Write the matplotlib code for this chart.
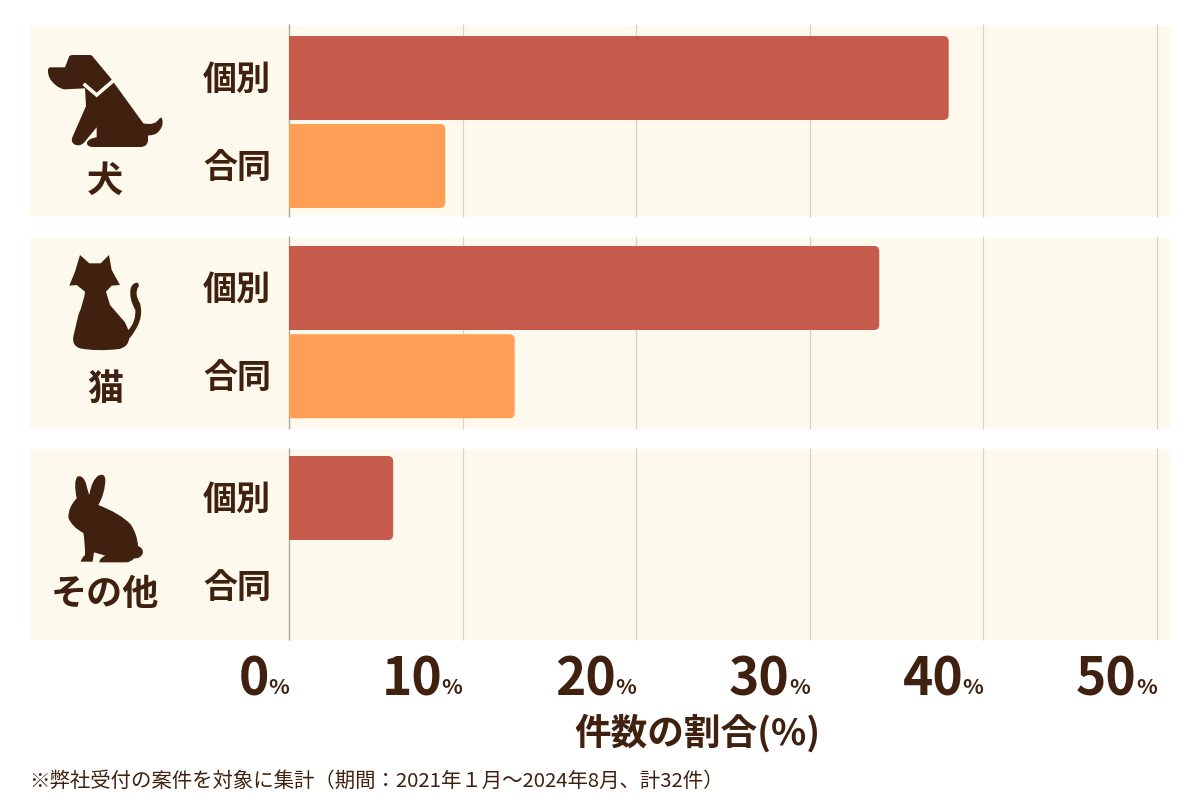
import matplotlib
matplotlib.use('Agg')
import matplotlib.pyplot as plt
from matplotlib.patches import FancyBboxPatch, PathPatch
from matplotlib.path import Path
from matplotlib.transforms import ScaledTranslation

plt.rcParams['font.family'] = ['Noto Sans CJK JP', 'DejaVu Sans']

animals = ['犬', '猫', 'その他']
kinds = ['個別', '合同']
kojin = [38, 34, 6]  # percent of cases
goudou = [9, 13, 0]
xticks = [0, 10, 20, 30, 40, 50]
xlabel = '件数の割合(%)'
note = '※弊社受付の案件を対象に集計（期間：2021年１月～2024年8月、計32件）'

BROWN = '#40200f'
BAND = '#fdf9ec'
RED = '#c65b4b'
ORANGE = '#ff9f55'

band_tops = [26, 238, 449.5]
band_h = 190.5
px_per_pct = 17.36
left, right = 289, 1171

# icon outlines, drawn on a 3x grid
dog = ('M 118 108 Q 122 105 130 105 L 180 105 Q 186 105 190 112 L 240 172 L 340 310 '
       'Q 375 318 388 296 Q 395 288 397 300 Q 402 322 380 340 Q 365 348 354 346 '
       'L 354 362 Q 352 380 332 381 L 188 381 Q 170 380 171 368 Q 175 355 200 352 L 200 322 L 162 368 '
       'Q 150 380 135 374 Q 120 366 128 350 L 168 258 L 165 205 L 105 208 Q 92 208 78 196 '
       'Q 52 176 54 150 Q 54 142 62 142 L 105 142 Z')
cat = ('M 150 60 L 178 85 L 212 85 L 237 60 L 245 105 L 270 150 L 245 152 L 228 170 L 240 210 L 285 262 '
       'L 295 285 Q 318 262 316 225 Q 296 190 302 160 Q 308 143 322 143 Q 330 148 325 156 '
       'Q 312 175 330 205 Q 345 255 297 312 Q 295 335 268 342 Q 200 350 150 340 Q 125 332 130 305 '
       'L 145 240 Q 162 200 165 170 L 140 150 L 118 152 L 135 110 Z')
rabbit = ('M 140 160 Q 130 110 142 95 Q 158 88 168 115 Q 172 135 178 150 Q 185 105 205 92 Q 225 82 226 105 '
          'Q 225 145 205 180 Q 270 205 302 238 Q 322 268 324 303 Q 342 310 338 326 Q 330 342 312 340 '
          'Q 305 350 290 352 L 208 352 Q 208 340 226 332 L 192 322 L 188 350 L 152 350 Q 155 338 165 330 '
          'Q 166 300 160 264 Q 125 245 115 218 Q 115 185 140 160 Z')
icons = [(dog, 30, 20), (cat, 30, 235), (rabbit, 30, 445)]
icon_labels_y = [181, 389, 595]


def icon_path(d, ox, oy):
    # tiny M/L/Q/Z outline reader, turns the 3x grid into figure pixels
    tok = d.split()
    verts, codes = [], []
    i = 0
    while i < len(tok):
        c = tok[i]
        if c == 'Z':
            verts.append(verts[0])
            codes.append(Path.CLOSEPOLY)
            i += 1
            continue
        n = 4 if c == 'Q' else 2
        vals = [float(v) for v in tok[i + 1:i + 1 + n]]
        for j in range(0, n, 2):
            verts.append((ox + vals[j] / 3, oy + vals[j + 1] / 3))
            codes.append({'M': Path.MOVETO, 'L': Path.LINETO, 'Q': Path.CURVE3}[c])
        i += n + 1
    return Path(verts, codes)


fig = plt.figure(figsize=(12, 8), dpi=100, facecolor='white')

# full-figure layer for the panels, icons and captions
bg = fig.add_axes([0, 0, 1, 1])
bg.set_xlim(0, 1200)
bg.set_ylim(800, 0)
bg.axis('off')

for top in band_tops:
    bg.add_patch(FancyBboxPatch((30, top), right - 30, band_h, boxstyle='round,pad=0,rounding_size=3',
                                fc=BAND, ec='none'))

for (d, ox, oy), name, y in zip(icons, animals, icon_labels_y):
    bg.add_patch(PathPatch(icon_path(d, ox, oy), fc=BROWN, ec='none'))
    bg.text(105, y, name, fontsize=26, fontweight='bold', color=BROWN, ha='center', va='center')

# white collar on the dog
bg.plot([30 + 165 / 3, 30 + 200 / 3, 30 + 250 / 3], [20 + 195 / 3, 20 + 225 / 3, 20 + 182 / 3],
        color=BAND, lw=2.6, solid_joinstyle='miter')

bg.text(697, 733, xlabel, fontsize=26.4, fontweight='bold', color=BROWN, ha='center', va='center')
bg.text(29, 781, note, fontsize=14.7, color=BROWN, ha='left', va='center')

# chart axes, y runs in the same units as the panels
ax = fig.add_axes([left / 1200, 1 - 640 / 800, (right - left) / 1200, (640 - 26) / 800])
ax.patch.set_alpha(0)
ax.set_xlim(0, (right - left) / px_per_pct)
ax.set_ylim(640, 26)
for s in ax.spines.values():
    s.set_visible(False)

y_kojin = [78 + 210 * i for i in range(3)]
y_goudou = [166 + 210.25 * i for i in range(3)]

for top in band_tops:
    ax.vlines(xticks, top - 2, top + band_h, colors='#d6d3c8', lw=0.9, zorder=1, clip_on=False)
    ax.vlines(0, top - 2, top + band_h, colors='#a9a69c', lw=0.9, zorder=1, clip_on=False)

for ys, vals, col in [(y_kojin, kojin, RED), (y_goudou, goudou, ORANGE)]:
    bars = ax.barh(ys, vals, height=84, color=col, zorder=2)
    for r in bars:
        r.set_visible(False)
        if r.get_width() == 0:
            continue
        # start left of the axis so only the right corners show rounded
        ax.add_patch(FancyBboxPatch((-1, r.get_y()), r.get_width() + 1, r.get_height(),
                                    boxstyle='round,pad=0,rounding_size=0.3',
                                    mutation_aspect=px_per_pct, fc=col, ec='none', zorder=2))

ax.set_yticks(y_kojin + y_goudou)
ax.set_yticklabels([kinds[0]] * 3 + [kinds[1]] * 3, fontsize=24.5, fontweight='bold', color=BROWN)
ax.tick_params(axis='y', length=0, pad=13)
ax.tick_params(axis='x', length=0, labelbottom=False)
# nudge the row labels up to sit level with the bar centres
nudge = ScaledTranslation(0, 2.5 / 100, fig.dpi_scale_trans)
for lab in ax.get_yticklabels():
    lab.set_transform(lab.get_transform() + nudge)

for t in xticks:
    ax.annotate('%', xy=(t, 0), xycoords=('data', 'axes fraction'), xytext=(0, -34), textcoords='offset points',
                fontsize=15.5, fontweight='bold', color=BROWN, ha='right', va='center', annotation_clip=False)
    ax.annotate(str(t), xy=(t, 0), xycoords=('data', 'axes fraction'), xytext=(-14.5, -29), textcoords='offset points',
                fontsize=37, fontweight='bold', color=BROWN, ha='right', va='center', annotation_clip=False)

fig.savefig('out.png', dpi=100)
